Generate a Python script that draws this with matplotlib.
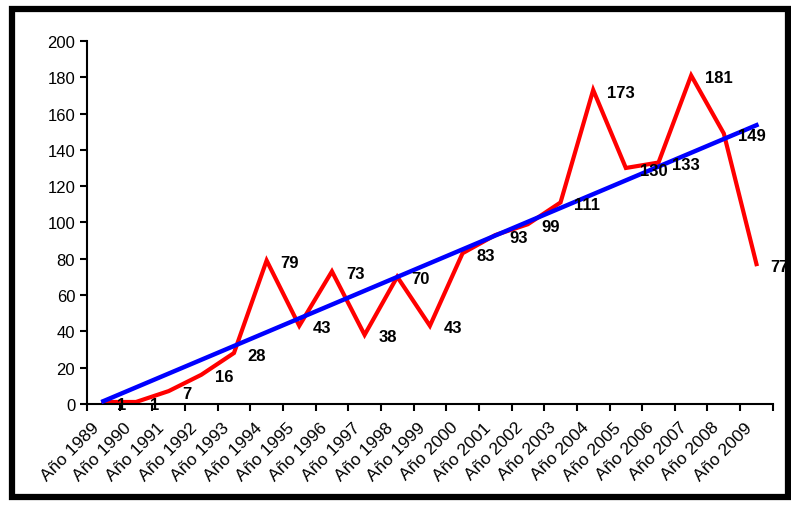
import matplotlib.pyplot as plt
import matplotlib.patches as patches
import numpy as np

plt.rcParams['font.family'] = ['Liberation Sans', 'DejaVu Sans']

years = list(range(1989, 2010))
labels = [f"Año {y}" for y in years]
values = [1, 1, 7, 16, 28, 79, 43, 73, 38, 70, 43, 83, 93, 99, 111, 173, 130, 133, 181, 149, 77]

x = np.arange(len(values))
# linear trendline, as in the spreadsheet
slope, intercept = np.polyfit(x, values, 1)
trend = slope * x + intercept

fig = plt.figure(figsize=(7.91, 5.06), dpi=100)
ax = fig.add_axes([0.110, 0.200, 0.867, 0.717])

ax.plot(x, values, color='#ff0000', lw=3.0, solid_joinstyle='miter', zorder=2)
ax.plot(x, trend, color='#0000ff', lw=3.2, zorder=3)

for xi, v in zip(x, values):
    ax.annotate(str(v), (xi, v), xytext=(10, -1.5), textcoords='offset points',
                ha='left', va='center', fontsize=12, fontweight='bold', zorder=4)

# category labels, rotated like the spreadsheet ones
for xi, lab in zip(x, labels):
    ax.annotate(lab, (xi, 0), xycoords=('data', 'axes fraction'),
                xytext=(-5, -15), textcoords='offset points',
                ha='right', va='center', rotation=45, rotation_mode='anchor',
                fontsize=12.5, annotation_clip=False)

ax.set_xlim(-0.5, len(values) - 0.5)
ax.set_ylim(0, 200)
ax.set_yticks(np.arange(0, 201, 20))
ax.set_xticks(np.arange(-0.5, len(values), 1))
ax.set_xticklabels([])
ax.tick_params(axis='x', length=5, width=1.5, direction='out')
ax.tick_params(axis='y', length=5, width=1.5, labelsize=12)

for s in ['top', 'right']:
    ax.spines[s].set_visible(False)
for s in ['left', 'bottom']:
    ax.spines[s].set_linewidth(1.5)

border = patches.Rectangle((11.5 / 791, 1 - 498 / 506), (788 - 11.5) / 791, (498 - 9.5) / 506,
                           transform=fig.transFigure, fill=False, lw=4.5, ec='black')
fig.patches.append(border)

fig.savefig('out.png', dpi=100)
